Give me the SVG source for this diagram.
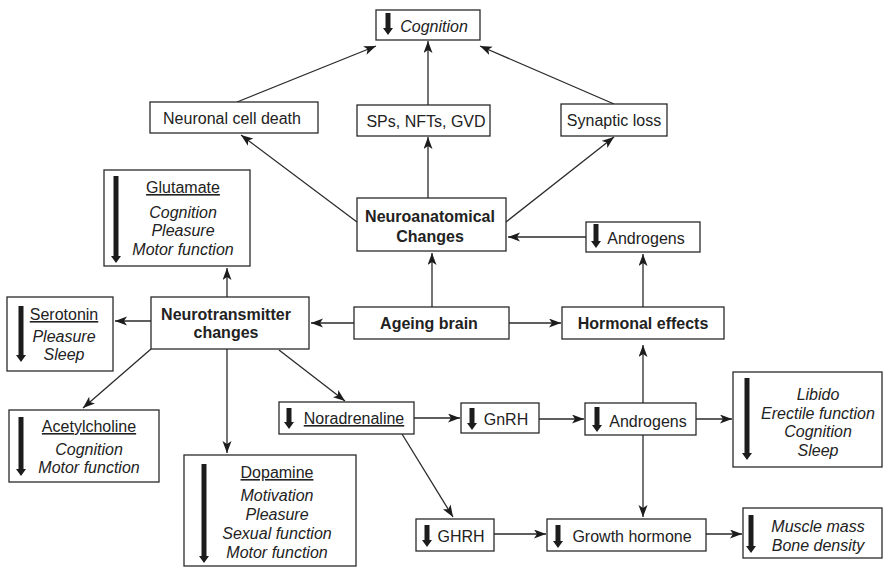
<svg xmlns="http://www.w3.org/2000/svg" width="889" height="570" viewBox="0 0 889 570">
<style>
.box{fill:#fff;stroke:#2a2a2a;stroke-width:1.3}
.t{font-family:"Liberation Sans",Arial,sans-serif;font-size:16px;fill:#222;text-anchor:middle}
.b{font-weight:bold}
.i{font-style:italic}
.u{text-decoration:underline}
.dn{fill:#1c1c1c}
.c{stroke:#2a2a2a;stroke-width:1.3;fill:none;marker-end:url(#ah)}
</style>
<defs>
<marker id="ah" markerUnits="userSpaceOnUse" markerWidth="14" markerHeight="10" refX="12" refY="4.5" orient="auto">
<path d="M0,0 L12,4.5 L0,9 L3,4.5 z" fill="#1c1c1c"/>
</marker>
</defs>
<rect width="889" height="570" fill="#fff"/>
<g id="connectors">
<line class="c" x1="237" y1="102" x2="376" y2="46"/>
<line class="c" x1="428" y1="105" x2="428" y2="41"/>
<line class="c" x1="614" y1="104" x2="480" y2="46"/>
<line class="c" x1="357" y1="222" x2="241" y2="135"/>
<line class="c" x1="428" y1="198" x2="428" y2="137"/>
<line class="c" x1="506" y1="222" x2="614" y2="137"/>
<line class="c" x1="586" y1="237" x2="508" y2="237"/>
<line class="c" x1="432" y1="307" x2="432" y2="253"/>
<line class="c" x1="643" y1="307" x2="643" y2="254"/>
<line class="c" x1="354" y1="323" x2="311" y2="323"/>
<line class="c" x1="509" y1="323" x2="561" y2="323"/>
<line class="c" x1="227" y1="297" x2="227" y2="268"/>
<line class="c" x1="151" y1="321" x2="115" y2="321"/>
<line class="c" x1="151" y1="349" x2="83" y2="408"/>
<line class="c" x1="227" y1="349" x2="227" y2="453"/>
<line class="c" x1="279" y1="350" x2="345" y2="401"/>
<line class="c" x1="414" y1="418" x2="460" y2="418"/>
<line class="c" x1="539" y1="419" x2="584" y2="419"/>
<line class="c" x1="696" y1="419" x2="732" y2="419"/>
<line class="c" x1="643" y1="403" x2="643" y2="345"/>
<line class="c" x1="643" y1="435" x2="643" y2="517"/>
<line class="c" x1="402" y1="434" x2="453" y2="517"/>
<line class="c" x1="494" y1="534" x2="546" y2="534"/>
<line class="c" x1="706" y1="534" x2="742" y2="534"/>
</g>
<g id="cognition">
<rect class="box" x="376" y="10" width="104" height="30"/>
<path class="dn" d="M385.5,13 V28 H383 L388,35 L393,28 H390.5 V13 z"/>
<text class="t i" x="434" y="32">Cognition</text>
</g>
<g id="neuronal-cell-death">
<rect class="box" x="150" y="102" width="168" height="31"/>
<text class="t" x="232" y="124">Neuronal cell death</text>
</g>
<g id="sps">
<rect class="box" x="357" y="105" width="133" height="31"/>
<text class="t" x="426" y="127">SPs, NFTs, GVD</text>
</g>
<g id="synaptic-loss">
<rect class="box" x="561" y="104" width="106" height="32"/>
<text class="t" x="614" y="126">Synaptic loss</text>
</g>
<g id="glutamate">
<rect class="box" x="104" y="170" width="146" height="96"/>
<path class="dn" d="M113.5,176 V256 H111 L116,263 L121,256 H118.5 V176 z"/>
<text class="t u" x="183" y="193">Glutamate</text>
<text class="t i" x="183" y="218">Cognition</text>
<text class="t i" x="183" y="236">Pleasure</text>
<text class="t i" x="183" y="255">Motor function</text>
</g>
<g id="neuroanatomical">
<rect class="box" x="357" y="198" width="149" height="53"/>
<text class="t b" x="430" y="222">Neuroanatomical</text>
<text class="t b" x="430" y="242">Changes</text>
</g>
<g id="androgens-top">
<rect class="box" x="586" y="222" width="114" height="30"/>
<path class="dn" d="M593.5,224 V241 H591 L596,248 L601,241 H598.5 V224 z"/>
<text class="t" x="646" y="244">Androgens</text>
</g>
<g id="serotonin">
<rect class="box" x="7" y="297" width="106" height="74"/>
<path class="dn" d="M18.5,306 V355 H16 L21,362 L26,355 H23.5 V306 z"/>
<text class="t u" x="64" y="320">Serotonin</text>
<text class="t i" x="64" y="342">Pleasure</text>
<text class="t i" x="64" y="360">Sleep</text>
</g>
<g id="neurotransmitter">
<rect class="box" x="151" y="297" width="158" height="52"/>
<text class="t b" x="226" y="320">Neurotransmitter</text>
<text class="t b" x="226" y="338">changes</text>
</g>
<g id="ageing-brain">
<rect class="box" x="354" y="307" width="155" height="32"/>
<text class="t b" x="429" y="329">Ageing brain</text>
</g>
<g id="hormonal-effects">
<rect class="box" x="562" y="307" width="162" height="32"/>
<text class="t b" x="643" y="329">Hormonal effects</text>
</g>
<g id="acetylcholine">
<rect class="box" x="9" y="410" width="150" height="72"/>
<path class="dn" d="M18.5,417 V469 H16 L21,476 L26,469 H23.5 V417 z"/>
<text class="t u" x="89" y="432">Acetylcholine</text>
<text class="t i" x="89" y="455">Cognition</text>
<text class="t i" x="89" y="473">Motor function</text>
</g>
<g id="dopamine">
<rect class="box" x="184" y="455" width="172" height="111"/>
<path class="dn" d="M201.5,464 V556 H199 L204,563 L209,556 H206.5 V464 z"/>
<text class="t u" x="277" y="478">Dopamine</text>
<text class="t i" x="277" y="501">Motivation</text>
<text class="t i" x="277" y="520">Pleasure</text>
<text class="t i" x="277" y="539">Sexual function</text>
<text class="t i" x="277" y="558">Motor function</text>
</g>
<g id="noradrenaline">
<rect class="box" x="279" y="402" width="135" height="32"/>
<path class="dn" d="M286.5,408 V422 H284 L289,429 L294,422 H291.5 V408 z"/>
<text class="t u" x="354" y="424">Noradrenaline</text>
</g>
<g id="gnrh">
<rect class="box" x="461" y="403" width="78" height="30"/>
<path class="dn" d="M469.5,408 V423 H467 L472,430 L477,423 H474.5 V408 z"/>
<text class="t" x="506" y="425">GnRH</text>
</g>
<g id="androgens-mid">
<rect class="box" x="585" y="403" width="111" height="32"/>
<path class="dn" d="M594.5,407 V425 H592 L597,432 L602,425 H599.5 V407 z"/>
<text class="t" x="648" y="427">Androgens</text>
</g>
<g id="libido">
<rect class="box" x="733" y="372" width="149" height="95"/>
<path class="dn" d="M744.5,378 V453 H742 L747,460 L752,453 H749.5 V378 z"/>
<text class="t i" x="818" y="400">Libido</text>
<text class="t i" x="818" y="419">Erectile function</text>
<text class="t i" x="818" y="437">Cognition</text>
<text class="t i" x="818" y="456">Sleep</text>
</g>
<g id="ghrh">
<rect class="box" x="416" y="519" width="78" height="32"/>
<path class="dn" d="M424.5,525 V540 H422 L427,547 L432,540 H429.5 V525 z"/>
<text class="t" x="461" y="542">GHRH</text>
</g>
<g id="growth-hormone">
<rect class="box" x="547" y="519" width="159" height="32"/>
<path class="dn" d="M555.5,525 V541 H553 L558,548 L563,541 H560.5 V525 z"/>
<text class="t" x="632" y="542">Growth hormone</text>
</g>
<g id="muscle-mass">
<rect class="box" x="743" y="508" width="139" height="50"/>
<path class="dn" d="M748.5,515 V546 H746 L751,553 L756,546 H753.5 V515 z"/>
<text class="t i" x="818" y="532">Muscle mass</text>
<text class="t i" x="818" y="551">Bone density</text>
</g>
</svg>
